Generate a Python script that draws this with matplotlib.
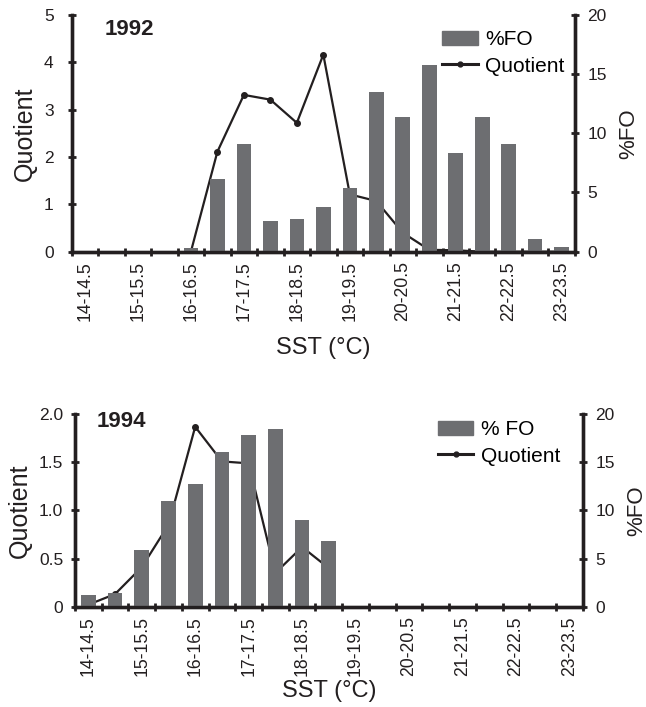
import matplotlib
matplotlib.use("Agg")
import matplotlib.pyplot as plt
import numpy as np
from matplotlib.patches import Patch
from matplotlib.lines import Line2D

plt.rcParams["font.family"] = ["Liberation Sans", "DejaVu Sans"]

# SST classes (deg C)
categories = ["14-14.5", "14.5-15", "15-15.5", "15.5-16", "16-16.5", "16.5-17",
              "17-17.5", "17.5-18", "18-18.5", "18.5-19", "19-19.5", "19.5-20",
              "20-20.5", "20.5-21", "21-21.5", "21.5-22", "22-22.5", "22.5-23",
              "23-23.5"]

nan = np.nan
fo_1992 = [0, 0, 0, 0, 0.3, 6.1, 9.1, 2.6, 2.8, 3.8, 5.4, 13.5, 11.4, 15.8,
           8.3, 11.4, 9.1, 1.05, 0.4]
q_1992 = [nan, nan, nan, nan, 0, 2.11, 3.31, 3.21, 2.72, 4.16, 1.21, 1.07,
          0.4, 0.04, 0.03, 0, 0, 0, 0]

fo_1994 = [1.2, 1.4, 5.9, 11.0, 12.7, 16.1, 17.8, 18.5, 9.0, 6.8,
           0, 0, 0, 0, 0, 0, 0, 0, 0]
q_1994 = [0.02, 0.13, 0.41, 0.85, 1.87, 1.51, 1.49, 0.35, 0.62, 0.40,
          nan, nan, nan, nan, nan, nan, nan, nan, nan]

q_ticks_1992 = [0, 1, 2, 3, 4, 5]
q_labels_1992 = ["0", "1", "2", "3", "4", "5"]
q_ticks_1994 = [0, 0.5, 1.0, 1.5, 2.0]
q_labels_1994 = ["0", "0.5", "1.0", "1.5", "2.0"]
fo_ticks = [0, 5, 10, 15, 20]

BAR = "#6d6e71"
INK = "#231f20"

fig = plt.figure(figsize=(6.46, 7.07), dpi=100)


def panel(rect, fo, q, year, fo_name, qticks, qlabels, lpad, xlpad,
          year_xy, leg_xy):
    x = np.arange(len(categories))
    ax = fig.add_axes(rect)
    ax2 = ax.twinx()

    ax.plot(x, q, color=INK, lw=1.6, marker="o", ms=4, zorder=2)
    ax2.bar(x, fo, width=0.55, color=BAR, zorder=2)

    ax.set_xlim(-0.5, len(categories) - 0.5)
    ax.set_ylim(0, qticks[-1])
    ax2.set_ylim(0, 20)

    # labels at class centres, tick marks at class boundaries
    ax.set_xticks(x[::2])
    ax.set_xticklabels(categories[::2], rotation=90, fontsize=12.7, color=INK)
    ax.set_xticks(np.arange(-0.5, len(categories)), minor=True)
    ax.tick_params(axis="x", which="major", length=0, pad=7)
    ax.tick_params(axis="x", which="minor", length=6, width=2,
                   direction="inout", color=INK)

    ax.set_yticks(qticks)
    ax.set_yticklabels(qlabels, fontsize=12.5, color=INK)
    ax.tick_params(axis="y", length=6, width=2, direction="inout",
                   color=INK, pad=lpad)
    ax2.set_yticks(fo_ticks)
    ax2.set_yticklabels([str(t) for t in fo_ticks], fontsize=12.5, color=INK)
    ax2.tick_params(axis="y", length=6, width=2, direction="inout",
                    color=INK, pad=6)

    for a in (ax, ax2):
        a.spines["top"].set_visible(False)
        for s in ("left", "right", "bottom"):
            a.spines[s].set_linewidth(2.4)
            a.spines[s].set_color(INK)

    ax.set_xlabel("SST (°C)", fontsize=17, color=INK, labelpad=xlpad)
    ax.set_ylabel("Quotient", fontsize=18, color=INK, labelpad=5)
    ax2.set_ylabel("%FO", fontsize=16, color=INK, labelpad=8)

    ax.text(year_xy[0], year_xy[1], year, transform=ax.transAxes,
            fontsize=16, fontweight="bold", color=INK, va="center")

    handles = [Patch(color=BAR),
               Line2D([], [], color=INK, lw=2.2, marker="o", ms=3.5)]
    ax2.legend(handles, [fo_name, "Quotient"], loc="upper right",
               bbox_to_anchor=leg_xy, frameon=False, fontsize=15,
               handlelength=1.7, handletextpad=0.35, labelspacing=0.35,
               borderaxespad=0.1)
    return ax, ax2


panel([0.111, 0.644, 0.779, 0.335], fo_1992, q_1992, "1992", "%FO",
      q_ticks_1992, q_labels_1992, 10, 11, (0.066, 0.94), (1.0, 0.979))
panel([0.116, 0.142, 0.786, 0.272], fo_1994, q_1994, "1994", "% FO",
      q_ticks_1994, q_labels_1994, 5.5, 3, (0.043, 0.961), (0.976, 1.023))

fig.savefig("out.png", dpi=100)
